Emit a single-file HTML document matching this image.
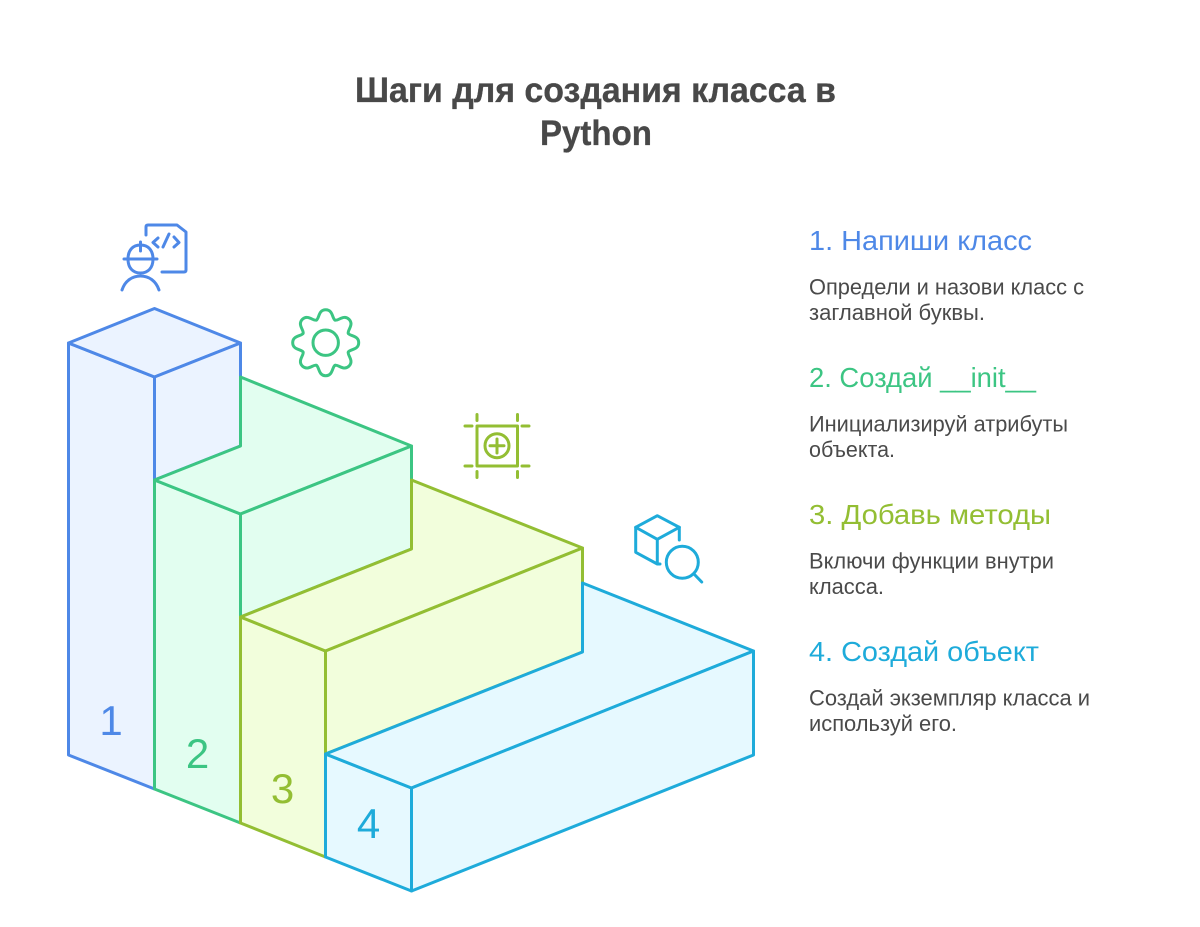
<!DOCTYPE html>
<html lang="ru">
<head>
<meta charset="utf-8">
<title>Шаги для создания класса в Python</title>
<style>
html,body{margin:0;padding:0;background:#fff;width:1200px;height:927px;overflow:hidden}
svg{display:block}
text{font-family:"Liberation Sans",sans-serif}
.b{fill:#4a4a4a;font-size:22px}
.h{font-size:28px}
.n{font-size:42px;text-anchor:middle}
</style>
</head>
<body>
<svg width="1200" height="927" viewBox="0 0 1200 927" xmlns="http://www.w3.org/2000/svg">
<text x="355" y="102" font-size="35" font-weight="700" fill="#484848" stroke="#484848" stroke-width="0.3" textLength="481" lengthAdjust="spacingAndGlyphs">Шаги для создания класса в</text>
<text x="540" y="145" font-size="35" font-weight="700" fill="#484848" stroke="#484848" stroke-width="0.3" textLength="112" lengthAdjust="spacingAndGlyphs">Python</text>

<g stroke-width="3" stroke-linejoin="round" stroke-linecap="round">
<g fill="#EBF3FF" stroke="#4E88E7">
<path d="M68.500,343 L154.500,377 V789 L68.500,755 Z"/>
<path d="M68.500,343 L154.500,308.500 L240.500,343 L154.500,377 Z"/>
<path d="M154.500,377 L240.500,343 V446 L154.500,480 Z"/>
</g>
<g fill="#E2FEF0" stroke="#3CC583">
<path d="M154.500,480 L240.500,514 V823 L154.500,789 Z"/>
<path d="M240.500,377 L411.500,446 L240.500,514 L154.500,480 L240.500,446 Z"/>
<path d="M240.500,514 L411.500,446 V549 L240.500,617 Z"/>
</g>
<g fill="#F2FEDC" stroke="#93BE33">
<path d="M240.500,617 L325.500,651 V857 L240.500,823 Z"/>
<path d="M411.500,480 L582.500,548 L325.500,651 L240.500,617 L411.500,549 Z"/>
<path d="M325.500,651 L582.500,548 V652 L325.500,754 Z"/>
</g>
<g fill="#E6F9FF" stroke="#1EABDA">
<path d="M325.500,754 L411.500,788 V891 L325.500,857 Z"/>
<path d="M582.500,583 L753.500,651 L411.500,788 L325.500,754 L582.500,652 Z"/>
<path d="M411.500,788 L753.500,651 V755 L411.500,891 Z"/>
</g>
</g>

<text class="n" x="111" y="735" fill="#4E88E7">1</text>
<text class="n" x="197.500" y="768" fill="#3CC583">2</text>
<text class="n" x="282.500" y="803" fill="#93BE33">3</text>
<text class="n" x="368.500" y="838" fill="#1EABDA">4</text>

<!-- Developer icon -->
<g fill="none" stroke="#4E88E7" stroke-width="3" stroke-linecap="round" stroke-linejoin="round">
<path d="M146,235 V227 Q146,225 148,225 H177 L186,232 V270 Q186,272 184,272 H162"/>
<path d="M158,238 L153,242.500 L158,247"/>
<path d="M169,234 L163,247"/>
<path d="M174,237 L179,242.500 L174,247"/>
<path d="M128,259 C128,250 133,245 140.500,245 C148,245 153,250 153,259 C153,268 148,273 140.500,273 C133,273 128,268 128,259 Z"/>
<path d="M124,259 H157"/>
<path d="M140.500,242 V251"/>
<path d="M122,290 C125,281 132,276 140.500,276 C149,276 156,281 159,290"/>
</g>

<!-- Gear icon -->
<g fill="none" stroke="#3CC583" stroke-width="3" stroke-linecap="round" stroke-linejoin="round">
<circle cx="325.700" cy="342.700" r="12.700"/>
<g transform="translate(325.700 342.700)">
<path d="M-9.400,-22.600 C-6.400,-23.800 -7.500,-33 0,-33 C7.500,-33 6.400,-23.800 9.400,-22.600"/>
<path transform="rotate(45)" d="M-9.400,-22.600 C-6.400,-23.800 -7.500,-33 0,-33 C7.500,-33 6.400,-23.800 9.400,-22.600"/>
<path transform="rotate(90)" d="M-9.400,-22.600 C-6.400,-23.800 -7.500,-33 0,-33 C7.500,-33 6.400,-23.800 9.400,-22.600"/>
<path transform="rotate(135)" d="M-9.400,-22.600 C-6.400,-23.800 -7.500,-33 0,-33 C7.500,-33 6.400,-23.800 9.400,-22.600"/>
<path transform="rotate(180)" d="M-9.400,-22.600 C-6.400,-23.800 -7.500,-33 0,-33 C7.500,-33 6.400,-23.800 9.400,-22.600"/>
<path transform="rotate(225)" d="M-9.400,-22.600 C-6.400,-23.800 -7.500,-33 0,-33 C7.500,-33 6.400,-23.800 9.400,-22.600"/>
<path transform="rotate(270)" d="M-9.400,-22.600 C-6.400,-23.800 -7.500,-33 0,-33 C7.500,-33 6.400,-23.800 9.400,-22.600"/>
<path transform="rotate(315)" d="M-9.400,-22.600 C-6.400,-23.800 -7.500,-33 0,-33 C7.500,-33 6.400,-23.800 9.400,-22.600"/>
</g>
</g>

<!-- Plus-in-square icon -->
<g fill="none" stroke="#93BE33" stroke-width="3" stroke-linecap="round" stroke-linejoin="round">
<rect x="477" y="426" width="40.500" height="40"/>
<circle cx="497" cy="445.700" r="12"/>
<path d="M497,439 V453 M490,445.700 H504"/>
<path d="M477,414.500 V420.500 M517.500,414.500 V420.500 M477,471.500 V477.500 M517.500,471.500 V477.500"/>
<path d="M465,426 H472 M522,426 H529 M465,466 H472 M522,466 H529"/>
</g>

<!-- Cube and magnifier icon -->
<g fill="none" stroke="#1EABDA" stroke-width="3" stroke-linecap="round" stroke-linejoin="round">
<path d="M657.300,515.700 L679.300,527.300 L657.300,539.300 L635.700,527.300 Z"/>
<path d="M635.700,527.300 V552.300 L657.300,564 H660 M657.300,564 V539.300"/>
<path d="M679.300,527.300 V540"/>
<circle cx="682.300" cy="562.300" r="16"/>
<path d="M694,574 L701.700,582"/>
</g>

<text class="h" x="809" y="250" fill="#4E88E7" textLength="223" lengthAdjust="spacingAndGlyphs">1. Напиши класс</text>
<text class="b" x="809" y="294.500" textLength="275" lengthAdjust="spacingAndGlyphs">Определи и назови класс с</text>
<text class="b" x="809" y="320" textLength="176" lengthAdjust="spacingAndGlyphs">заглавной буквы.</text>

<text class="h" x="809" y="387" fill="#3CC583" textLength="227" lengthAdjust="spacingAndGlyphs">2. Создай __init__</text>
<text class="b" x="809" y="431.500" textLength="259" lengthAdjust="spacingAndGlyphs">Инициализируй атрибуты</text>
<text class="b" x="809" y="457" textLength="86" lengthAdjust="spacingAndGlyphs">объекта.</text>

<text class="h" x="809" y="524" fill="#93BE33" textLength="242" lengthAdjust="spacingAndGlyphs">3. Добавь методы</text>
<text class="b" x="809" y="568.500" textLength="245" lengthAdjust="spacingAndGlyphs">Включи функции внутри</text>
<text class="b" x="809" y="594" textLength="75" lengthAdjust="spacingAndGlyphs">класса.</text>

<text class="h" x="809" y="661" fill="#1EABDA" textLength="230" lengthAdjust="spacingAndGlyphs">4. Создай объект</text>
<text class="b" x="809" y="705.500" textLength="281" lengthAdjust="spacingAndGlyphs">Создай экземпляр класса и</text>
<text class="b" x="809" y="731" textLength="148" lengthAdjust="spacingAndGlyphs">используй его.</text>
</svg>
</body>
</html>
